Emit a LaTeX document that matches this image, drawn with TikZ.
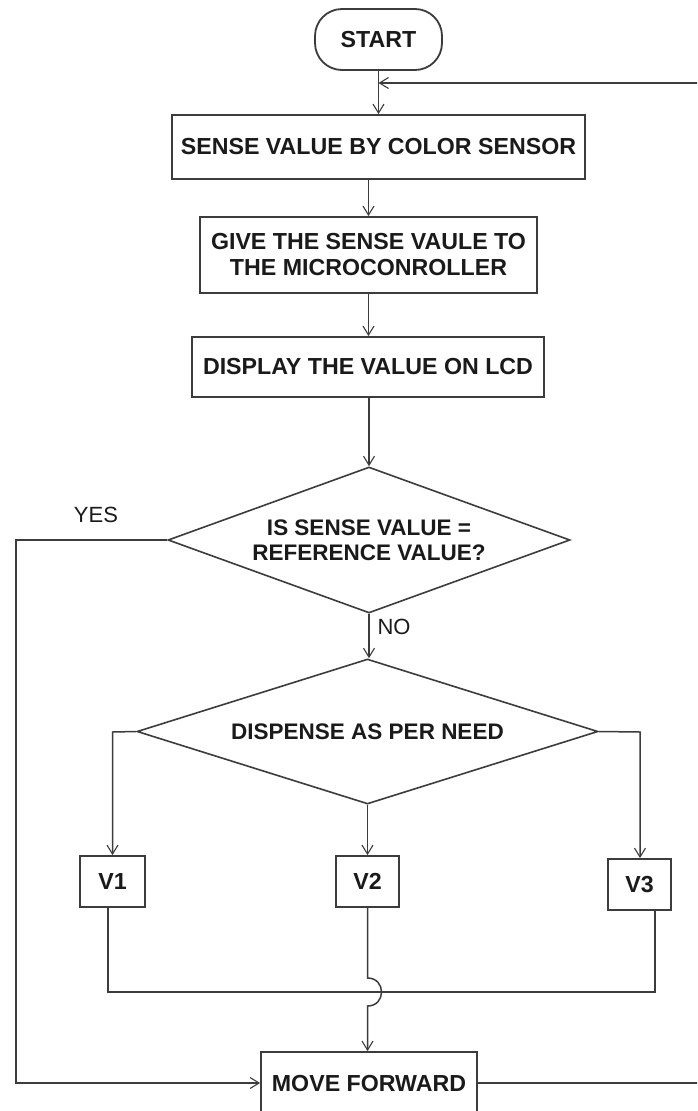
\documentclass[tikz,border=0pt]{standalone}
\usepackage{fontspec}
\setmainfont{Liberation Sans}
\usetikzlibrary{arrows.meta,shapes.geometric}
\definecolor{ln}{HTML}{3C3C3C}
\definecolor{tx}{HTML}{1A1A1A}
\tikzset{
  every node/.style={text=tx},
  boxnode/.style={draw=ln, line width=1.8pt, rectangle, inner sep=0pt, align=center,
                  font=\fontsize{23.2}{26}\selectfont\bfseries},
  decnode/.style={draw=ln, line width=1.6pt, diamond, inner sep=0pt, align=center,
                  font=\fontsize{22.5}{25}\selectfont\bfseries},
  lbl/.style={font=\fontsize{22}{25}\selectfont, inner sep=0pt},
  conn/.style={draw=ln, line width=1.5pt},
  arr/.style={conn, -{Straight Barb[length=9pt,width=11pt,line width=1.1pt]}}
}
\begin{document}
\begin{tikzpicture}[x=1pt,y=-1pt]
\path[use as bounding box, fill=white] (0,0) rectangle (697,1111);
\clip (0,0) rectangle (697,1111);

\node[boxnode, rounded corners=27pt, minimum width=127pt, minimum height=61pt] (start) at (378.5,39.5) {START};
\node[boxnode, minimum width=413pt, minimum height=64pt] (sense) at (378.5,147) {SENSE VALUE BY COLOR SENSOR};
\node[boxnode, minimum width=337pt, minimum height=76pt] (give) at (368.5,255) {GIVE THE SENSE VAULE TO\\THE MICROCONROLLER};
\node[boxnode, minimum width=352pt, minimum height=60pt] (disp) at (368,367) {DISPLAY THE VALUE ON LCD};
\node[decnode, aspect=2.75, minimum width=402pt, minimum height=146pt] (dec1) at (369,540) {IS SENSE VALUE =\\REFERENCE VALUE?};
\node[decnode, aspect=3.18, minimum width=461pt, minimum height=145pt] (dec2) at (367.5,731.5) {DISPENSE AS PER NEED};
\node[boxnode, minimum width=64.5pt, minimum height=51pt] (v1) at (112.5,881.5) {V1};
\node[boxnode, minimum width=62.5pt, minimum height=51pt] (v2) at (367.5,881.5) {V2};
\node[boxnode, minimum width=63pt, minimum height=51pt] (v3) at (639.5,884.5) {V3};
\node[boxnode, minimum width=216pt, minimum height=62pt] (mf) at (369,1083) {MOVE FORWARD};

\node[lbl] (yes) at (96,515) {YES};
\node[lbl] (no) at (394,627) {NO};

\coordinate (join) at (378.5,83);
\coordinate (yesc) at (16,540);
\coordinate (yesd) at (16,1083);
\coordinate (l1) at (112.5,732);
\coordinate (l3) at (640,732);
\coordinate (h1) at (108,992);
\coordinate (h3) at (655,992);
\coordinate (hopa) at (367.5,978);
\coordinate (hopb) at (367.5,1006);
\coordinate (ret) at (712,1083);

% main flow
\draw[arr] (start.south) -- (sense.north);
\draw[arr] (mf.east) -- (ret) |- (join);
\draw[arr] (give.north |- sense.south) -- (give.north);
\draw[arr] (give.south) -- (disp.north -| give.south);
\draw[arr] (dec1.north |- disp.south) -- (dec1.north);
\draw[arr] (dec1.south) -- (dec2.north -| dec1.south);
\draw[arr] (dec1.west) -- (yesc) -- (yesd) -- (mf.west);

% dispense branches
\draw[arr] (dec2.west) -- (l1) -- (v1.north);
\draw[arr] (dec2.south) -- (v2.north);
\draw[arr] (dec2.east) -- (l3) -- (v3.north -| l3);

% collecting line and hop
\draw[conn] (h1 |- v1.south) -- (h1) -- (h3) -- (h3 |- v3.south);
\draw[arr] (v2.south) -- (hopa) .. controls (386.2,978) and (386.2,1006) .. (hopb) -- (mf.north -| hopb);
\end{tikzpicture}
\end{document}
